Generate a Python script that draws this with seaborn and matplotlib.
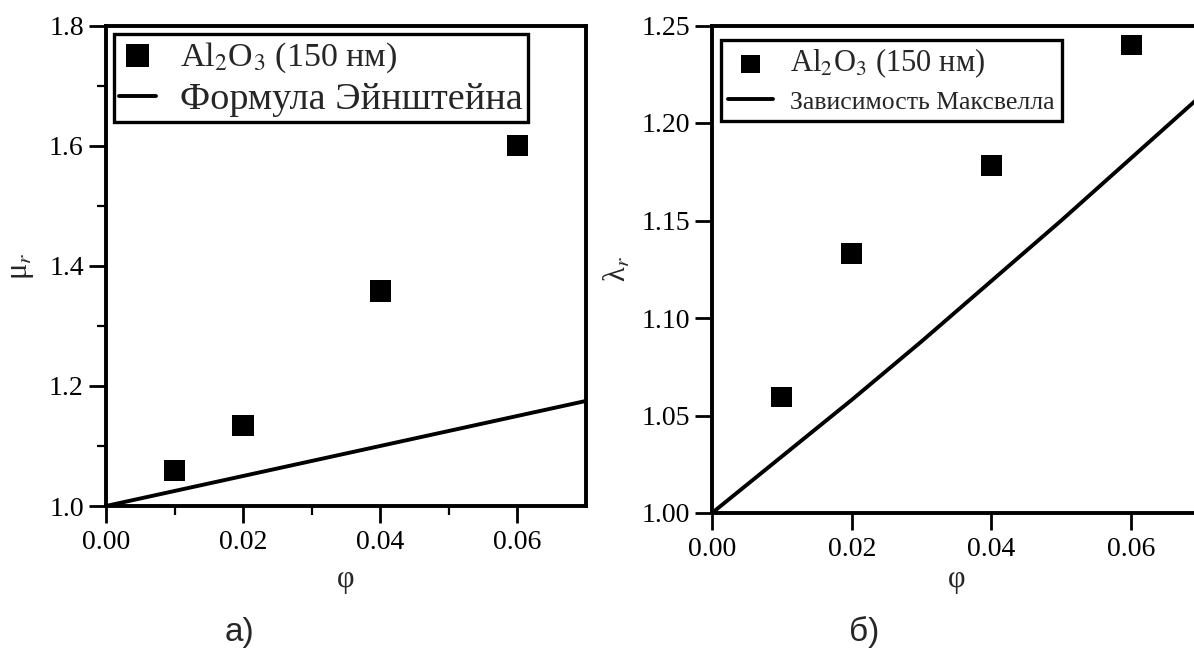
import matplotlib
matplotlib.use("Agg")
import matplotlib.pyplot as plt
import seaborn as sns
import pandas as pd
from matplotlib.ticker import FixedLocator, FormatStrFormatter

# Measured relative viscosity and thermal conductivity of the Al2O3 nanofluid
phi = [0.01, 0.02, 0.04, 0.06]
mu_r = [1.059, 1.134, 1.358, 1.601]
lambda_r = [1.0595, 1.133, 1.178, 1.240]

# Model curves
phi_einstein = [0.0, 0.07]
mu_einstein = [1.0, 1.175]
phi_maxwell = [0.0, 0.01, 0.02, 0.03, 0.04, 0.05, 0.06, 0.07]
lambda_maxwell = [1.0, 1.029, 1.058, 1.088, 1.119, 1.150, 1.182, 1.214]

series_label = "Al$_2$O$_3$ (150 нм)"
einstein_label = "Формула Эйнштейна"
maxwell_label = "Зависимость Максвелла"

x_ticks = [0.00, 0.02, 0.04, 0.06]
x_minor = [0.01, 0.03, 0.05]
mu_ticks = [1.0, 1.2, 1.4, 1.6, 1.8]
mu_minor = [1.1, 1.3, 1.5, 1.7]
lambda_ticks = [1.00, 1.05, 1.10, 1.15, 1.20, 1.25]

sns.set_theme(style="ticks")
plt.rcParams.update({
    "font.family": ["Liberation Serif", "DejaVu Serif"],
    "mathtext.fontset": "stix",
    "axes.linewidth": 2.8,
    "axes.edgecolor": "black",
    "xtick.major.size": 12, "ytick.major.size": 12,
    "xtick.major.width": 2.0, "ytick.major.width": 2.0,
    "xtick.minor.size": 6.5, "ytick.minor.size": 6.5,
    "xtick.minor.width": 1.6, "ytick.minor.width": 1.6,
    "xtick.major.pad": 5, "ytick.major.pad": 4,
    "xtick.labelsize": 20, "ytick.labelsize": 20,
    "xtick.color": "black", "ytick.color": "black",
})

W, H = 1194, 653
fig = plt.figure(figsize=(W / 100, H / 100), dpi=100)

def frac(x0, x1, y_top, y_bot):
    return [x0 / W, 1 - y_bot / H, (x1 - x0) / W, (y_bot - y_top) / H]

ax1 = fig.add_axes(frac(106, 586, 25.7, 506))
ax2 = fig.add_axes(frac(712, 1201, 25.5, 513))

df_mu = pd.DataFrame({"phi": phi, "val": mu_r})
df_lam = pd.DataFrame({"phi": phi, "val": lambda_r})
df_ein = pd.DataFrame({"phi": phi_einstein, "val": mu_einstein})
df_max = pd.DataFrame({"phi": phi_maxwell, "val": lambda_maxwell})

# Panel a: viscosity
sns.scatterplot(data=df_mu, x="phi", y="val", ax=ax1, marker="s", s=235,
                color="black", edgecolor="none", label=series_label, zorder=3)
sns.lineplot(data=df_ein, x="phi", y="val", ax=ax1, color="black",
             linewidth=2.8, label=einstein_label)
ax1.set_xlim(0, 0.07)
ax1.set_ylim(1.0, 1.8)
ax1.xaxis.set_major_locator(FixedLocator(x_ticks))
ax1.xaxis.set_minor_locator(FixedLocator(x_minor))
ax1.yaxis.set_major_locator(FixedLocator(mu_ticks))
ax1.yaxis.set_minor_locator(FixedLocator(mu_minor))
ax1.xaxis.set_major_formatter(FormatStrFormatter("%.2f"))
ax1.yaxis.set_major_formatter(FormatStrFormatter("%.1f"))
ax1.tick_params(which="both", direction="out", top=False, right=False)
ax1.set_xlabel("φ", fontsize=22, va="center")
ax1.set_ylabel("μ$_{r}$", fontsize=22, va="center")
ax1.xaxis.set_label_coords(0.5, -0.154)
ax1.yaxis.set_label_coords(-0.177, 0.5)
leg1 = ax1.legend(loc="upper left", bbox_to_anchor=(0.0167, 0.983),
                  borderaxespad=0, fontsize=27.5, frameon=True, fancybox=False,
                  edgecolor="black", framealpha=1, handlelength=0.97,
                  handletextpad=0.63, borderpad=0.13, labelspacing=0.2,
                  markerscale=1.05)
leg1.get_frame().set_linewidth(2.4)
leg1.get_texts()[0].set_fontsize(24.5)

# Panel b: thermal conductivity
sns.scatterplot(data=df_lam, x="phi", y="val", ax=ax2, marker="s", s=225,
                color="black", edgecolor="none", label=series_label, zorder=3)
sns.lineplot(data=df_max, x="phi", y="val", ax=ax2, color="black",
             linewidth=2.8, label=maxwell_label)
ax2.set_xlim(0, 0.07)
ax2.set_ylim(1.0, 1.25)
ax2.xaxis.set_major_locator(FixedLocator(x_ticks))
ax2.yaxis.set_major_locator(FixedLocator(lambda_ticks))
ax2.xaxis.set_major_formatter(FormatStrFormatter("%.2f"))
ax2.yaxis.set_major_formatter(FormatStrFormatter("%.2f"))
ax2.tick_params(which="both", direction="out", top=False, right=False)
ax2.set_xlabel("φ", fontsize=22, va="center")
ax2.set_ylabel("λ$_{r}$", fontsize=22, va="center")
ax2.xaxis.set_label_coords(0.5, -0.137)
ax2.yaxis.set_label_coords(-0.192, 0.5)
leg2 = ax2.legend(loc="upper left", bbox_to_anchor=(0.018, 0.970),
                  borderaxespad=0, fontsize=22, frameon=True, fancybox=False,
                  edgecolor="black", framealpha=1, handlelength=1.5,
                  handletextpad=0.55, borderpad=0.22, labelspacing=0.25,
                  markerscale=0.87)
leg2.get_frame().set_linewidth(2.4)
leg2.get_texts()[1].set_fontsize(18.5)

for ax in (ax1, ax2):
    for sp in ax.spines.values():
        sp.set_visible(True)
        sp.set_linewidth(2.8)
        sp.set_color("black")

fig.text(240 / W, 1 - 632 / H, "а)", fontsize=24, family="Liberation Sans",
         ha="center", va="center")
fig.text(864 / W, 1 - 632 / H, "б)", fontsize=24, family="Liberation Sans",
         ha="center", va="center")

fig.savefig("out.png", dpi=100, facecolor="white")
